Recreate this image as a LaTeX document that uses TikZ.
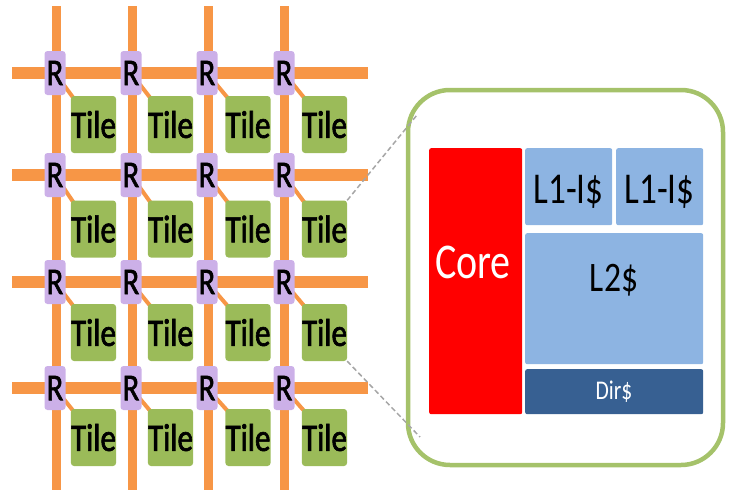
\documentclass[tikz,border=0pt]{standalone}
\usepackage{fontspec}
\usetikzlibrary{backgrounds}
\newfontfamily\cf[FakeStretch=0.8]{Carlito}
\newfontfamily\cfb[FakeStretch=0.8,FakeBold=1.6]{Carlito}
\definecolor{gridor}{HTML}{F79646}
\definecolor{rlav}{HTML}{CCB0E8}
\definecolor{tgreen}{HTML}{9BBB59}
\definecolor{lblue}{HTML}{8DB4E2}
\definecolor{dblue}{HTML}{376092}
\definecolor{dgray}{HTML}{A6A6A6}
\begin{document}
\begin{tikzpicture}[x=1pt,y=-1pt,
  router/.style={fill=rlav, rounded corners=3pt, minimum width=21pt, minimum height=44pt, inner sep=0pt, font=\cfb\fontsize{38}{38}\selectfont},
  tilebox/.style={fill=tgreen, rounded corners=3pt, minimum width=43pt, minimum height=57pt, inner sep=0pt, font=\cfb\fontsize{39}{39}\selectfont},
  vwire/.style={draw=gridor, line width=9pt},
  hwire/.style={draw=gridor, line width=12pt},
  link/.style={draw=gridor, line width=4pt},
  blk/.style={inner sep=0pt, rounded corners=2pt, anchor=north west},
  zoomline/.style={draw=dgray, line width=1.5pt, dash pattern=on 5pt off 3pt}
]
\useasboundingbox (0,0) rectangle (734,490);
% grid wires
\foreach \i/\x in {1/56,2/132,3/208,4/284} {
  \coordinate (vt\i) at (\x,6);
  \coordinate (vb\i) at (\x,490);
  \draw[vwire] (vt\i) -- (vb\i);
}
\foreach \j/\y in {1/73,2/175,3/282,4/388} {
  \coordinate (hl\j) at (12,\y);
  \coordinate (hr\j) at (368,\y);
  \draw[hwire] (hl\j) -- (hr\j);
}
% routers and tiles
\foreach \j/\y/\ty in {1/73/124.5,2/175/229,3/282/332.5,4/388/437.5} {
  \foreach \i/\x/\tx in {1/55/93.5,2/131/170.5,3/207/248,4/284/324.5} {
    \node[router] (r-\j-\i) at (\x,\y) {R};
    \node[tilebox] (t-\j-\i) at (\tx,\ty) {Tile};
    \begin{scope}[on background layer]
      \draw[link] (r-\j-\i.center) -- ([xshift=4pt,yshift=-4pt]t-\j-\i.north west);
    \end{scope}
  }
}
% zoomed tile
\draw[draw=tgreen!90!white, line width=4.5pt, rounded corners=42pt] (408,90) rectangle (723,465);
\coordinate (zt) at (417,115);
\coordinate (zb) at (420,437);
\draw[zoomline] (t-2-4.north east) -- (zt);
\draw[zoomline] (t-3-4.south east) -- (zb);
% blocks
\node[blk, fill=red, minimum width=93pt, minimum height=266pt] (core) at (429,148) {};
\node[font=\cf\fontsize{50}{50}\selectfont, text=white] at (473,262) {Core};
\node[blk, fill=lblue, minimum width=87pt, minimum height=77pt] (l1a) at (525,148) {};
\node[font=\cf\fontsize{44}{44}\selectfont] at (568.5,192) {L1-I\$};
\node[blk, fill=lblue, minimum width=87pt, minimum height=77pt] (l1b) at (616,148) {};
\node[font=\cf\fontsize{44}{44}\selectfont] at (659.5,192) {L1-I\$};
\node[blk, fill=lblue, minimum width=178pt, minimum height=131pt] (l2) at (525,233) {};
\node[font=\cf\fontsize{42}{42}\selectfont] at (614,280) {L2\$};
\node[blk, fill=dblue, minimum width=178pt, minimum height=45pt] (dir) at (525,369) {};
\node[font=\cf\fontsize{27}{27}\selectfont, text=white] at (614,392) {Dir\$};
\end{tikzpicture}
\end{document}
